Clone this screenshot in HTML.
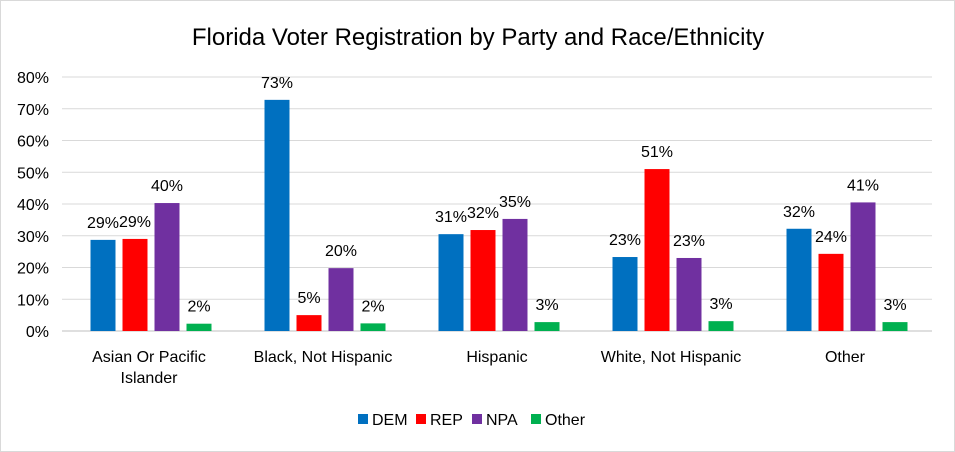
<!DOCTYPE html>
<html><head><meta charset="utf-8"><style>
body{margin:0;background:#fff}
svg{display:block;font-family:"Liberation Sans",sans-serif}
</style></head><body>
<svg id="chart" width="955" height="452">
<rect x="0.5" y="0.5" width="954" height="451" fill="#fff" stroke="#d9d9d9"/>
<text x="478" y="45" text-anchor="middle" font-size="24" fill="#000">Florida Voter Registration by Party and Race/Ethnicity</text>
<g id="grid"></g><g id="bars"></g><g id="labels"></g><g id="legend"></g>
</svg>
<script>
const categories=[["Asian Or Pacific","Islander"],["Black, Not Hispanic"],["Hispanic"],["White, Not Hispanic"],["Other"]];
const seriesNames=["DEM","REP","NPA","Other"];
const dem=[28.7,72.8,30.5,23.3,32.2];
const rep=[29,5,31.8,51,24.3];
const npa=[40.3,19.8,35.3,23,40.5];
const oth=[2.3,2.4,2.8,3.1,2.8];
const yTicks=[0,10,20,30,40,50,60,70,80];
const colors=["#0070C0","#FF0000","#7030A0","#00B050"];
const series=[dem,rep,npa,oth];
const NS="http://www.w3.org/2000/svg";
const x0=64,x1=934,yb=331,yt=77,ymax=80;
const y=v=>yb-(v/ymax)*(yb-yt);
const bw=25,gap=7;
const catW=(x1-x0)/categories.length;
function mk(tag,attrs,parent,text){const e=document.createElementNS(NS,tag);for(const k in attrs)e.setAttribute(k,attrs[k]);if(text!==undefined)e.textContent=text;parent.appendChild(e);return e;}
const grid=document.getElementById('grid'),bars=document.getElementById('bars'),labels=document.getElementById('labels'),legend=document.getElementById('legend');
yTicks.forEach(t=>{
 const l=mk('line',{x1:62,x2:932,y1:y(t),y2:y(t),stroke:t===0?'#bfbfbf':'#d9d9d9','stroke-width':1},grid);
 
 
 const tx=mk('text',{x:49,y:y(t)+6,'text-anchor':'end','font-size':16,fill:'#000'},grid,t+'%');
 
 
});
categories.forEach((c,i)=>{
 const cx=x0+catW*(i+0.5);
 const start=cx-(4*bw+3*gap)/2;
 series.forEach((s,j)=>{
  const bx=start+j*(bw+gap);
  const r=mk('rect',{x:bx,y:y(s[i]),width:bw,height:yb-y(s[i]),fill:colors[j]},bars);
  
  
  const t=mk('text',{x:bx+bw/2,y:y(s[i])-12,'text-anchor':'middle','font-size':16,fill:'#000'},labels,Math.round(s[i])+'%');
  
  
 });
 c.forEach((line,k)=>{
  const t=mk('text',{x:cx-2,y:362+k*21,'text-anchor':'middle','font-size':16,fill:'#000'},labels,line);
  
  
 });
});
const lx=[358,416,472,531];
seriesNames.forEach((n,j)=>{
 const g=mk('g',{},legend);
 
 
 mk('rect',{x:lx[j],y:414,width:10,height:10,fill:colors[j]},g);
 mk('text',{x:lx[j]+14,y:425,'font-size':16,fill:'#000'},g,n);
});
</script>
</body></html>
